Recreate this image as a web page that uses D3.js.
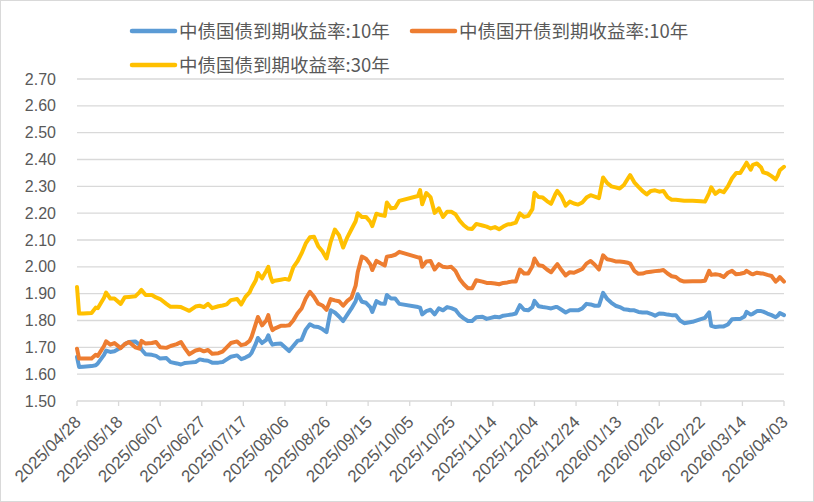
<!DOCTYPE html>
<html>
<head>
<meta charset="utf-8">
<script src="https://cdn.jsdelivr.net/npm/d3@7"></script>
<style>
  body { margin: 0; background: #fff; }
  svg { display: block; font-family: "Liberation Sans", Arial, sans-serif; }
</style>
</head>
<body>
<svg id="chart" width="814" height="502"></svg>
<script>
const dates = ['2025/04/28','2025/04/29','2025/05/01','2025/05/05','2025/05/07','2025/05/08','2025/05/11','2025/05/12','2025/05/14','2025/05/16',
  '2025/05/19','2025/05/21','2025/05/23','2025/05/26','2025/05/28','2025/05/29','2025/05/31','2025/06/03','2025/06/05','2025/06/07',
  '2025/06/10','2025/06/12','2025/06/15','2025/06/17','2025/06/19','2025/06/21','2025/06/24','2025/06/26','2025/06/28','2025/06/30',
  '2025/07/02','2025/07/05','2025/07/07','2025/07/09','2025/07/11','2025/07/14','2025/07/16','2025/07/18','2025/07/20','2025/07/21',
  '2025/07/23','2025/07/24','2025/07/26','2025/07/28','2025/07/29','2025/07/30','2025/07/31','2025/08/01','2025/08/04','2025/08/06',
  '2025/08/08','2025/08/10','2025/08/12','2025/08/14','2025/08/16','2025/08/18','2025/08/20','2025/08/22','2025/08/24','2025/08/26',
  '2025/08/28','2025/08/30','2025/09/01','2025/09/03','2025/09/05','2025/09/07','2025/09/09','2025/09/10','2025/09/12','2025/09/14',
  '2025/09/16','2025/09/17','2025/09/19','2025/09/21','2025/09/23','2025/09/24','2025/09/26','2025/09/28','2025/09/30','2025/10/09',
  '2025/10/10','2025/10/11','2025/10/13','2025/10/15','2025/10/17','2025/10/19','2025/10/21','2025/10/23','2025/10/25','2025/10/27',
  '2025/10/29','2025/10/31','2025/11/02','2025/11/04','2025/11/06','2025/11/09','2025/11/11','2025/11/13','2025/11/15','2025/11/17',
  '2025/11/19','2025/11/21','2025/11/23','2025/11/25','2025/11/27','2025/11/29','2025/12/01','2025/12/03','2025/12/04','2025/12/06',
  '2025/12/08','2025/12/10','2025/12/12','2025/12/14','2025/12/15','2025/12/17','2025/12/19','2025/12/21','2025/12/23','2025/12/25',
  '2025/12/27','2025/12/29','2025/12/31','2026/01/02','2026/01/04','2026/01/06','2026/01/08','2026/01/10','2026/01/12','2026/01/14',
  '2026/01/16','2026/01/18','2026/01/19','2026/01/21','2026/01/23','2026/01/25','2026/01/27','2026/01/29','2026/01/31','2026/02/02',
  '2026/02/04','2026/02/06','2026/02/08','2026/02/10','2026/02/12','2026/02/14','2026/02/18','2026/02/22','2026/02/24','2026/02/26',
  '2026/02/27','2026/03/01','2026/03/03','2026/03/05','2026/03/07','2026/03/09','2026/03/11','2026/03/13','2026/03/15','2026/03/16',
  '2026/03/18','2026/03/19','2026/03/21','2026/03/23','2026/03/24','2026/03/26','2026/03/28','2026/03/30','2026/03/31','2026/04/01',
  '2026/04/03'];

// 中债国债到期收益率:10年
const cgb10 = [1.664,1.627,1.628,1.630,1.633,1.640,1.672,1.688,1.683,1.685,
  1.698,1.712,1.720,1.722,1.710,1.692,1.674,1.672,1.668,1.658,
  1.660,1.645,1.640,1.636,1.642,1.643,1.645,1.655,1.652,1.650,
  1.643,1.643,1.645,1.655,1.665,1.670,1.656,1.662,1.670,1.680,
  1.714,1.735,1.716,1.728,1.745,1.722,1.710,1.712,1.714,1.700,
  1.686,1.705,1.724,1.728,1.766,1.786,1.778,1.776,1.768,1.757,
  1.838,1.830,1.815,1.798,1.822,1.845,1.872,1.898,1.870,1.866,
  1.850,1.832,1.872,1.863,1.862,1.895,1.882,1.882,1.862,1.850,
  1.848,1.823,1.835,1.840,1.823,1.845,1.838,1.850,1.846,1.840,
  1.820,1.808,1.798,1.798,1.812,1.814,1.806,1.810,1.814,1.812,
  1.818,1.820,1.822,1.826,1.857,1.840,1.838,1.850,1.873,1.853,
  1.850,1.848,1.845,1.850,1.850,1.840,1.830,1.838,1.838,1.838,
  1.845,1.862,1.860,1.855,1.855,1.903,1.880,1.866,1.855,1.850,
  1.842,1.840,1.838,1.838,1.832,1.830,1.830,1.825,1.818,1.826,
  1.825,1.822,1.820,1.820,1.800,1.790,1.795,1.805,1.810,1.830,
  1.780,1.776,1.778,1.778,1.785,1.805,1.806,1.806,1.815,1.832,
  1.822,1.825,1.835,1.835,1.833,1.826,1.820,1.812,1.818,1.828,
  1.820];

// 中债国开债到期收益率:10年
const cdb10 = [1.695,1.658,1.658,1.658,1.672,1.668,1.705,1.722,1.710,1.716,
  1.697,1.712,1.720,1.700,1.695,1.724,1.714,1.716,1.720,1.700,
  1.698,1.705,1.712,1.720,1.695,1.674,1.688,1.692,1.685,1.690,
  1.676,1.678,1.684,1.700,1.716,1.722,1.708,1.712,1.724,1.740,
  1.788,1.813,1.782,1.800,1.820,1.785,1.764,1.770,1.780,1.780,
  1.782,1.800,1.826,1.845,1.882,1.907,1.888,1.863,1.856,1.840,
  1.880,1.875,1.872,1.855,1.873,1.885,1.930,1.980,2.038,2.030,
  2.010,1.988,2.022,2.013,2.005,2.038,2.040,2.045,2.056,2.035,
  2.035,2.000,2.020,2.022,1.990,2.010,2.000,1.998,2.000,1.985,
  1.955,1.935,1.920,1.920,1.950,1.945,1.940,1.940,1.938,1.935,
  1.940,1.942,1.945,1.945,1.990,1.975,1.975,2.002,2.031,2.006,
  2.003,1.990,1.980,2.000,2.010,1.988,1.968,1.980,1.978,1.985,
  1.992,2.012,2.022,2.008,1.990,2.043,2.028,2.025,2.020,2.020,
  2.018,2.015,2.012,1.985,1.974,1.975,1.980,1.982,1.984,1.985,
  1.988,1.975,1.965,1.962,1.950,1.945,1.946,1.946,1.948,1.985,
  1.970,1.972,1.970,1.962,1.978,1.985,1.972,1.974,1.978,1.985,
  1.975,1.972,1.978,1.975,1.975,1.970,1.966,1.945,1.952,1.962,
  1.945];

// 中债国债到期收益率:30年
const cgb30 = [1.925,1.826,1.826,1.828,1.848,1.846,1.885,1.904,1.882,1.882,
  1.862,1.887,1.888,1.890,1.905,1.914,1.895,1.895,1.886,1.880,
  1.862,1.851,1.851,1.850,1.843,1.836,1.852,1.855,1.850,1.862,
  1.846,1.853,1.856,1.860,1.876,1.880,1.860,1.888,1.905,1.922,
  1.950,1.977,1.957,1.985,2.000,1.965,1.944,1.948,1.952,1.955,
  1.952,1.998,2.020,2.050,2.087,2.110,2.112,2.077,2.058,2.031,
  2.093,2.139,2.118,2.072,2.110,2.140,2.170,2.200,2.186,2.186,
  2.168,2.152,2.198,2.193,2.190,2.240,2.218,2.220,2.246,2.264,
  2.286,2.233,2.275,2.260,2.201,2.218,2.186,2.205,2.205,2.196,
  2.172,2.155,2.143,2.141,2.160,2.154,2.150,2.143,2.148,2.140,
  2.150,2.158,2.160,2.165,2.199,2.186,2.190,2.215,2.276,2.260,
  2.258,2.245,2.235,2.270,2.283,2.262,2.228,2.243,2.236,2.232,
  2.240,2.258,2.267,2.262,2.256,2.333,2.312,2.300,2.296,2.292,
  2.305,2.330,2.342,2.315,2.298,2.282,2.270,2.283,2.285,2.280,
  2.283,2.260,2.250,2.250,2.248,2.246,2.246,2.244,2.243,2.275,
  2.296,2.272,2.284,2.278,2.300,2.330,2.350,2.350,2.375,2.388,
  2.362,2.380,2.385,2.370,2.352,2.348,2.338,2.326,2.340,2.360,
  2.373];

const seriesNames = ['中债国债到期收益率:10年', '中债国开债到期收益率:10年', '中债国债到期收益率:30年'];
const seriesColors = ['#5B9BD5', '#ED7D31', '#FFC000'];
const xTickLabels = ['2025/04/28','2025/05/18','2025/06/07','2025/06/27','2025/07/17','2025/08/06','2025/08/26','2025/09/15','2025/10/05',
  '2025/10/25','2025/11/14','2025/12/04','2025/12/24','2026/01/13','2026/02/02','2026/02/22','2026/03/14','2026/04/03'];
const yDomain = [1.5, 2.7];

const parse = d3.utcParse('%Y/%m/%d');
const svg = d3.select('#chart');
const plot = { left: 77, right: 784, top: 79, bottom: 401 };

svg.append('rect').attr('x', 0.5).attr('y', 0.5).attr('width', 813).attr('height', 501)
  .attr('fill', '#fff').attr('stroke', '#d9d9d9');

const x = d3.scaleUtc().domain([parse(xTickLabels[0]), parse(xTickLabels[xTickLabels.length - 1])]).range([plot.left, plot.right]);
const y = d3.scaleLinear().domain(yDomain).range([plot.bottom, plot.top]);

// gridlines + y labels
const yTicks = d3.range(0, 13).map(i => +(yDomain[0] + i * 0.1).toFixed(2));
svg.append('g').selectAll('line').data(yTicks).join('line')
  .attr('x1', plot.left).attr('x2', plot.right)
  .attr('y1', d => y(d)).attr('y2', d => y(d))
  .attr('stroke', '#d9d9d9').attr('stroke-width', 1.3);
svg.append('g').selectAll('text').data(yTicks).join('text')
  .attr('x', 56).attr('y', d => y(d)).attr('dy', '0.35em')
  .attr('text-anchor', 'end').attr('font-size', 16).attr('fill', '#595959')
  .text(d => d3.format('.2f')(d));

// x axis ticks + labels
const xg = svg.append('g');
xg.selectAll('line').data(xTickLabels).join('line')
  .attr('x1', d => x(parse(d))).attr('x2', d => x(parse(d)))
  .attr('y1', plot.bottom).attr('y2', plot.bottom + 5)
  .attr('stroke', '#d9d9d9').attr('stroke-width', 1.3);
xg.selectAll('text').data(xTickLabels).join('text')
  .attr('transform', d => `translate(${x(parse(d)) + 5},${plot.bottom + 22}) rotate(-45)`)
  .attr('text-anchor', 'end').attr('font-size', 17).attr('fill', '#595959')
  .text(d => d);

// series
const line = d3.line().x(d => x(d.date)).y(d => y(d.value));
[cgb10, cdb10, cgb30].forEach((values, i) => {
  const pts = values.map((v, j) => ({ date: parse(dates[j]), value: v }));
  svg.append('path').datum(pts).attr('d', line)
    .attr('fill', 'none').attr('stroke', seriesColors[i]).attr('stroke-width', 4)
    .attr('stroke-linejoin', 'round').attr('stroke-linecap', 'round');
});

// legend
const legendPos = [{ x: 132, y: 31 }, { x: 412, y: 31 }, { x: 132, y: 65 }];
const lg = svg.append('g').selectAll('g').data(seriesNames).join('g')
  .attr('transform', (d, i) => `translate(${legendPos[i].x},${legendPos[i].y})`);
lg.append('line').attr('x1', 0).attr('x2', 43)
  .attr('stroke', (d, i) => seriesColors[i]).attr('stroke-width', 4.5).attr('stroke-linecap', 'round');
lg.append('text').attr('x', 47).attr('dy', '0.36em')
  .attr('font-family', '"Noto Sans CJK SC", "Liberation Sans", sans-serif')
  .attr('font-size', 18.5).attr('fill', '#595959')
  .text(d => d);
</script>
</body>
</html>
